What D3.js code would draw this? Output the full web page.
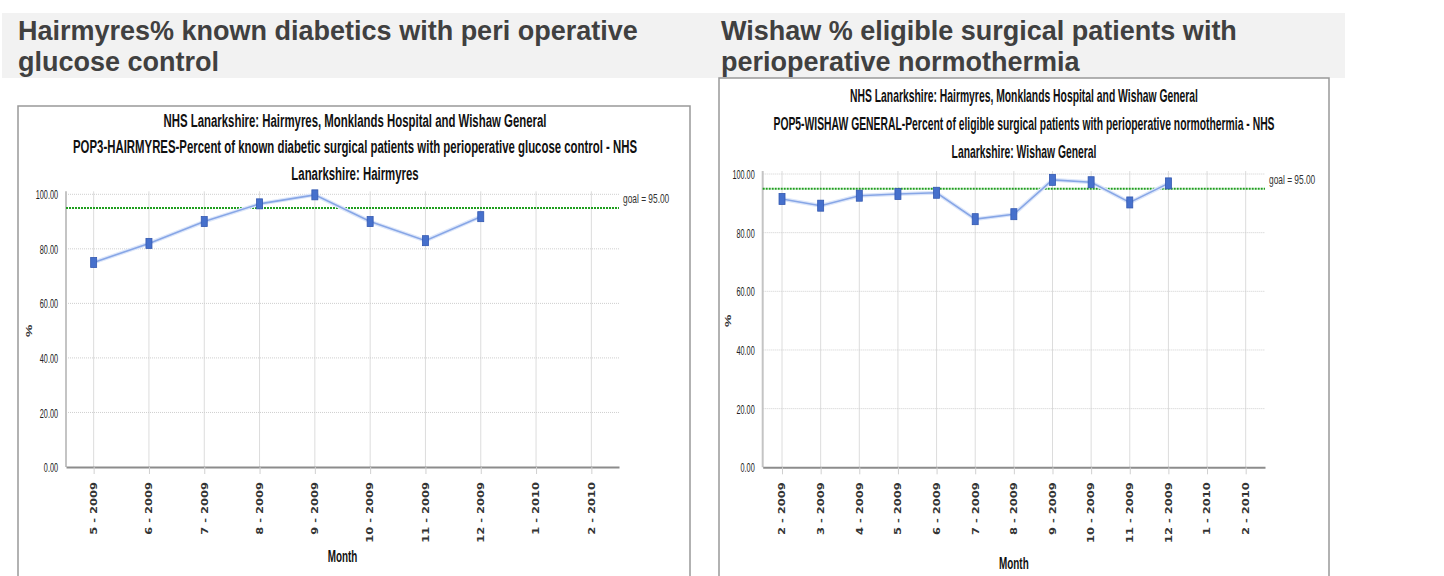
<!DOCTYPE html>
<html>
<head>
<meta charset="utf-8">
<script src="https://cdn.jsdelivr.net/npm/d3@7"></script>
<style>
	body { margin:0; background:#fff; }
	svg { display:block; }
</style>
</head>
<body>
<div class="visualisation"></div>
<script>
//----------------------------------------------------------------------------------------------------------------------------
//DATA
//----------------------------------------------------------------------------------------------------------------------------
var hmHeading = ["Hairmyres% known diabetics with peri operative", "glucose control"];
var hmTitle = ["NHS Lanarkshire: Hairmyres, Monklands  Hospital and Wishaw General",
	"POP3-HAIRMYRES-Percent of known diabetic surgical patients with perioperative glucose control - NHS",
	"Lanarkshire: Hairmyres"];
var hmMonths = ["5 - 2009", "6 - 2009", "7 - 2009", "8 - 2009", "9 - 2009", "10 - 2009",
	"11 - 2009", "12 - 2009", "1 - 2010", "2 - 2010"];
var hmValues = [75.0, 82.0, 90.0, 96.5, 99.8, 90.0, 83.0, 91.8];

var wgHeading = ["Wishaw % eligible surgical patients with", "perioperative normothermia"];
var wgTitle = ["NHS Lanarkshire: Hairmyres, Monklands  Hospital and Wishaw General",
	"POP5-WISHAW GENERAL-Percent of eligible surgical patients with perioperative normothermia - NHS",
	"Lanarkshire: Wishaw General"];
var wgMonths = ["2 - 2009", "3 - 2009", "4 - 2009", "5 - 2009", "6 - 2009", "7 - 2009", "8 - 2009",
	"9 - 2009", "10 - 2009", "11 - 2009", "12 - 2009", "1 - 2010", "2 - 2010"];
var wgValues = [91.5, 89.2, 92.6, 93.2, 93.6, 84.6, 86.3, 98.0, 97.2, 90.3, 96.8];

var yTicks = [0, 20, 40, 60, 80, 100];
var goal = 95;
var yLabel = "%";
var xLabel = "Month";

//----------------------------------------------------------------------------------------------------------------------------
//CANVAS
//----------------------------------------------------------------------------------------------------------------------------
var svg = d3.select(".visualisation").append("svg")
	.attr("width", 1444)
	.attr("height", 576);

var narrow = "'Liberation Sans', Arial, sans-serif";
var wide = "'DejaVu Sans', Verdana, sans-serif";

//grey heading band
svg.append("rect")
	.attr("x", 2).attr("y", 13)
	.attr("width", 1343).attr("height", 65)
	.attr("fill", "#f2f2f2");

function drawHeading(lines, x){
	svg.append("g").selectAll("text")
		.data(lines)
		.enter().append("text")
			.attr("x", x)
			.attr("y", function(d, i){ return 40 + i * 31; })
			.attr("font-family", narrow)
			.attr("font-weight", "bold")
			.attr("font-size", 27)
			.attr("fill", "#404040")
			.text(function(d){ return d; });
}

//----------------------------------------------------------------------------------------------------------------------------
//CHART
//----------------------------------------------------------------------------------------------------------------------------
function drawChart(c){
	var g = svg.append("g");

	//frame of the chart picture
	g.append("rect")
		.attr("x", c.box[0]).attr("y", c.box[1])
		.attr("width", c.box[2]).attr("height", 600 - c.box[1])
		.attr("fill", "#fff")
		.attr("stroke", "#999")
		.attr("stroke-width", 1.5);

	//titles, squeezed like the source image
	g.append("g").selectAll("text")
		.data(c.title)
		.enter().append("text")
			.attr("transform", function(d, i){
				return "translate(" + c.titleX + "," + c.titleY[i] + ") scale(" + c.titleSx + ",1)"; })
			.attr("text-anchor", "middle")
			.attr("font-family", narrow)
			.attr("font-weight", "bold")
			.attr("font-size", 19)
			.attr("fill", "#111")
			.text(function(d){ return d; });

	var x = d3.scalePoint().domain(c.months).range([c.x0, c.x1]).padding(0.5);
	var y = d3.scaleLinear().domain([0, 100]).range([c.yBase, c.yTop]);

	//vertical grid
	g.append("g").selectAll("line")
		.data(c.months)
		.enter().append("line")
			.attr("x1", function(d){ return x(d); })
			.attr("x2", function(d){ return x(d); })
			.attr("y1", c.yTop - 3)
			.attr("y2", c.yBase)
			.attr("stroke", "#dcdcdc")
			.attr("stroke-width", 1);

	//horizontal grid
	g.append("g").selectAll("line")
		.data(yTicks.slice(1))
		.enter().append("line")
			.attr("x1", c.x0).attr("x2", c.x1)
			.attr("y1", function(d){ return y(d); })
			.attr("y2", function(d){ return y(d); })
			.attr("stroke", "#cfcfcf")
			.attr("stroke-dasharray", "1,1")
			.attr("stroke-width", 1);

	//y axis
	var yAxis = g.append("g")
		.attr("transform", "translate(" + c.x0 + ",0)")
		.call(d3.axisLeft(y).tickValues(yTicks).tickFormat(d3.format(".2f")).tickSize(0).tickSizeOuter(0));
	yAxis.select(".domain")
		.attr("stroke", "#c4c4c4")
		.attr("stroke-width", 2)
		.attr("d", "M0," + (c.yTop - 3) + "V" + c.yBase);
	yAxis.selectAll("text")
		.attr("x", 0)
		.attr("dy", "0.35em")
		.attr("transform", "translate(-8,0) scale(0.56,1)")
		.attr("font-family", narrow)
		.attr("font-size", 13)
		.attr("fill", "#222");

	//x axis
	var xAxis = g.append("g")
		.attr("transform", "translate(0," + c.yBase + ")")
		.call(d3.axisBottom(x).tickSize(7).tickSizeOuter(0));
	xAxis.select(".domain")
		.attr("stroke", "#8c8c8c")
		.attr("stroke-width", 2);
	xAxis.selectAll(".tick line")
		.attr("stroke", "#d0d0d0");
	xAxis.selectAll("text")
		.attr("x", 0).attr("y", 0)
		.attr("dy", "0.35em")
		.attr("text-anchor", "end")
		.attr("transform", "translate(0,15) scale(0.7,1) rotate(-90)")
		.attr("font-family", wide)
		.attr("font-weight", "bold")
		.attr("font-size", 11.5)
		.attr("fill", "#333");

	//goal line
	g.append("line")
		.attr("x1", c.x0).attr("x2", c.x1)
		.attr("y1", y(goal)).attr("y2", y(goal))
		.attr("stroke", "#1f9e1f")
		.attr("stroke-width", 2)
		.attr("stroke-dasharray", "2,1");
	g.append("text")
		.attr("transform", "translate(" + (c.x1 + 4) + "," + (y(goal) - 5) + ") scale(0.62,1)")
		.attr("font-family", narrow)
		.attr("font-size", 13.5)
		.attr("fill", "#333")
		.text("goal = " + d3.format(".2f")(goal));

	//series
	var pts = c.values.map(function(v, i){ return {m: c.months[i], v: v}; });
	var line = d3.line()
		.x(function(d){ return x(d.m); })
		.y(function(d){ return y(d.v); });
	g.append("path")
		.datum(pts)
		.attr("d", line)
		.attr("fill", "none")
		.attr("stroke", "#dce6fa")
		.attr("stroke-width", 4);
	g.append("path")
		.datum(pts)
		.attr("d", line)
		.attr("fill", "none")
		.attr("stroke", "#87a6e6")
		.attr("stroke-width", 1.6);
	g.append("g").selectAll("rect")
		.data(pts)
		.enter().append("rect")
			.attr("x", function(d){ return x(d.m) - 3; })
			.attr("y", function(d){ return y(d.v) - c.markH / 2; })
			.attr("width", 6)
			.attr("height", c.markH)
			.attr("fill", "#4670cc")
			.attr("stroke", "#3358b0")
			.attr("stroke-width", 0.8);

	//axis titles
	g.append("text")
		.attr("transform", "translate(" + c.pctX + "," + ((c.yTop + c.yBase) / 2) + ") scale(0.65,1) rotate(-90)")
		.attr("text-anchor", "middle")
		.attr("dy", "0.35em")
		.attr("font-family", narrow)
		.attr("font-weight", "bold")
		.attr("font-size", 14)
		.attr("fill", "#333")
		.text(yLabel);
	g.append("text")
		.attr("transform", "translate(" + ((c.x0 + c.x1) / 2) + "," + c.monthY + ") scale(0.6,1)")
		.attr("text-anchor", "middle")
		.attr("font-family", narrow)
		.attr("font-weight", "bold")
		.attr("font-size", 16.5)
		.attr("fill", "#111")
		.text(xLabel);
}

drawHeading(hmHeading, 18);
drawHeading(wgHeading, 721);

drawChart({title: hmTitle, months: hmMonths, values: hmValues,
	box: [18, 106, 672], titleX: 355, titleY: [127, 153, 180], titleSx: 0.6,
	x0: 66, x1: 619, yTop: 194.3, yBase: 467, markH: 10, pctX: 29, monthY: 562});

drawChart({title: wgTitle, months: wgMonths, values: wgValues,
	box: [719, 78, 610], titleX: 1024, titleY: [101.7, 130, 158.3], titleSx: 0.545,
	x0: 762.7, x1: 1265, yTop: 174, yBase: 467.3, markH: 11, pctX: 728, monthY: 569});
</script>
</body>
</html>
